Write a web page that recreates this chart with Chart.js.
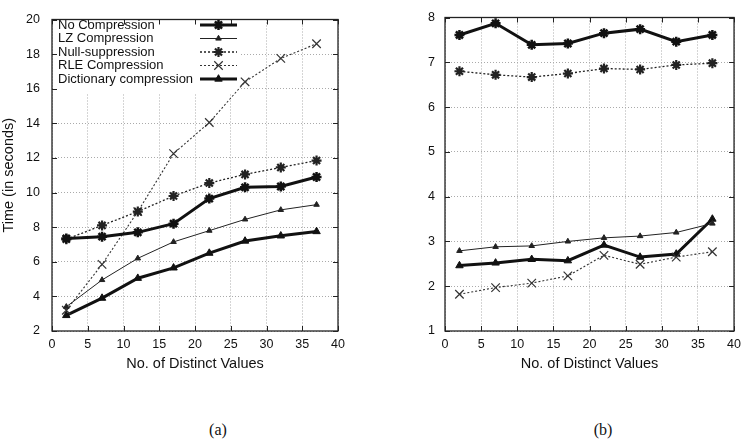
<!DOCTYPE html>
<html><head><meta charset="utf-8">
<script src="https://cdn.jsdelivr.net/npm/chart.js@4/dist/chart.umd.min.js"></script>
<style>
body{margin:0;background:#fff;width:747px;height:446px;position:relative;overflow:hidden;}
canvas{position:absolute;top:0;}
#ca{left:0}
#cb{left:380px}
.cap{position:absolute;top:421px;font:16px/18px "Liberation Serif","Times New Roman",serif;width:40px;text-align:center;color:#111;}
</style></head><body>
<canvas id="ca" width="380" height="380"></canvas>
<canvas id="cb" width="367" height="380"></canvas>
<div class="cap" style="left:198px">(a)</div>
<div class="cap" style="left:583px">(b)</div>
<script>
// ---- data ----
const distinctValues = [2, 7, 12, 17, 22, 27, 32, 37];
const seriesNames = ['No Compression', 'LZ Compression', 'Null-suppression', 'RLE Compression', 'Dictionary compression'];
const xTickLabels = [0, 5, 10, 15, 20, 25, 30, 35, 40];
const yTicksA = [2, 4, 6, 8, 10, 12, 14, 16, 18, 20];
const yTicksB = [1, 2, 3, 4, 5, 6, 7, 8];

// chart (a)
const aNoCompression = [7.35, 7.45, 7.7, 8.2, 9.65, 10.3, 10.35, 10.9];
const aLZ = [3.4, 4.95, 6.2, 7.15, 7.8, 8.45, 9.0, 9.3];
const aNullSuppression = [7.3, 8.1, 8.9, 9.8, 10.55, 11.05, 11.45, 11.85];
const aRLE = [3.2, 5.85, 8.9, 12.25, 14.05, 16.4, 17.75, 18.6];
const aDictionary = [2.9, 3.9, 5.05, 5.65, 6.5, 7.2, 7.5, 7.75];

// chart (b)
const bNoCompression = [7.61, 7.87, 7.39, 7.42, 7.65, 7.74, 7.46, 7.61];
const bLZ = [2.79, 2.88, 2.9, 3.0, 3.08, 3.12, 3.2, 3.4];
const bNullSuppression = [6.8, 6.72, 6.67, 6.75, 6.86, 6.84, 6.94, 6.98];
const bRLE = [1.82, 1.97, 2.07, 2.23, 2.69, 2.49, 2.65, 2.77];
const bDictionary = [2.46, 2.52, 2.6, 2.57, 2.92, 2.65, 2.72, 3.5];

const xAxisTitle = 'No. of Distinct Values';
const yAxisTitle = 'Time (in seconds)';

// ---- styles ----
const INK = '#111';
const styles = [
  {lw: 3,   dash: [],     ps: 'star',     r: 5,   pbw: 2.5, color: INK},
  {lw: 1,   dash: [],     ps: 'triangle', r: 3.2, pbw: 1,   color: '#222'},
  {lw: 1.3, dash: [2, 2], ps: 'star',     r: 5,   pbw: 2.2, color: '#222'},
  {lw: 1.1, dash: [2, 2], ps: 'crossRot', r: 6,   pbw: 1.2, color: '#333'},
  {lw: 3,   dash: [],     ps: 'triangle', r: 4.3, pbw: 1,   color: INK}
];
const FONT = '"Liberation Sans", Arial, Helvetica, sans-serif';

function makeDatasets(seriesValues) {
  return seriesValues.map((vals, i) => {
    const s = styles[i];
    return {
      label: seriesNames[i],
      data: distinctValues.map((x, k) => ({x: x, y: vals[k]})),
      showLine: true,
      borderColor: s.color,
      backgroundColor: s.color,
      borderWidth: s.lw,
      borderDash: s.dash,
      pointStyle: s.ps,
      pointRadius: s.r,
      pointBorderWidth: s.pbw,
      pointBackgroundColor: s.color,
      pointBorderColor: s.color,
      tension: 0,
      clip: false
    };
  });
}

// frame + inner ticks (gnuplot style)
const framePlugin = {
  id: 'frame',
  afterDatasetsDraw(chart) {
    const {ctx, chartArea: a, scales} = chart;
    ctx.save();
    ctx.strokeStyle = '#222';
    ctx.lineWidth = 1.3;
    ctx.setLineDash([]);
    ctx.strokeRect(a.left, a.top, a.right - a.left, a.bottom - a.top);
    ctx.lineWidth = 1;
    const L = 5;
    scales.x.ticks.forEach(t => {
      const px = Math.round(scales.x.getPixelForValue(t.value)) + 0.5;
      ctx.beginPath();
      ctx.moveTo(px, a.bottom); ctx.lineTo(px, a.bottom - L);
      ctx.moveTo(px, a.top); ctx.lineTo(px, a.top + L);
      ctx.stroke();
    });
    scales.y.ticks.forEach(t => {
      const py = Math.round(scales.y.getPixelForValue(t.value)) + 0.5;
      ctx.beginPath();
      ctx.moveTo(a.left, py); ctx.lineTo(a.left + L, py);
      ctx.moveTo(a.right, py); ctx.lineTo(a.right - L, py);
      ctx.stroke();
    });
    ctx.restore();
  }
};

function drawMarker(ctx, s, x, y) {
  ctx.save();
  ctx.setLineDash([]);
  ctx.strokeStyle = s.color;
  ctx.fillStyle = s.color;
  ctx.lineWidth = s.pbw;
  Chart.helpers.drawPoint(ctx, {pointStyle: s.ps, radius: s.r, borderWidth: s.pbw, rotation: 0}, x, y);
  ctx.restore();
}

// legend inside plot, text left, sample right
const insideLegend = {
  id: 'insideLegend',
  beforeDatasetsDraw(chart, args, opts) {
    if (!opts.show) return;
    const {ctx, chartArea: a} = chart;
    ctx.save();
    ctx.fillStyle = '#fff';
    ctx.fillRect(a.left + 1, a.top + 1, 186, 73);
    ctx.restore();
  },
  afterDraw(chart, args, opts) {
    if (!opts.show) return;
    const {ctx} = chart;
    ctx.save();
    ctx.font = '13px ' + FONT;
    ctx.textBaseline = 'middle';
    ctx.textAlign = 'left';
    const rows = [25, 38.5, 52, 65.5, 79];
    seriesNames.forEach((name, i) => {
      const s = styles[i];
      const y = rows[i];
      ctx.fillStyle = '#111';
      ctx.fillText(name, 58, y);
      ctx.strokeStyle = s.color;
      ctx.lineWidth = s.lw;
      ctx.setLineDash(s.dash);
      ctx.beginPath();
      ctx.moveTo(200, y); ctx.lineTo(237, y);
      ctx.stroke();
      drawMarker(ctx, s, 218.5, y);
    });
    ctx.restore();
  }
};

function makeChart(id, seriesValues, yMin, yMax, opt) {
  return new Chart(document.getElementById(id), {
    type: 'scatter',
    data: {datasets: makeDatasets(seriesValues)},
    options: {
      responsive: false,
      animation: false,
      events: [],
      layout: {padding: {top: 14, right: opt.padRight, left: 0, bottom: 0}},
      plugins: {
        legend: {display: false},
        tooltip: {enabled: false},
        insideLegend: {show: opt.legend}
      },
      scales: {
        x: {
          type: 'linear', min: 0, max: 40,
          afterBuildTicks: sc => { sc.ticks = xTickLabels.map(v => ({value: v})); },
          afterFit: sc => { sc.height = 49; },
          ticks: {color: '#111', font: {family: FONT, size: 12.5}, padding: 6, maxRotation: 0, autoSkip: false},
          grid: {color: '#aaa', lineWidth: 1, drawTicks: false},
          border: {display: false, dash: [1, 2]},
          title: {display: true, text: xAxisTitle, color: '#111', font: {family: FONT, size: 14.5}, padding: {top: 0, bottom: 7}}
        },
        y: {
          type: 'linear', min: yMin, max: yMax,
          afterBuildTicks: sc => { sc.ticks = opt.yTicks.map(v => ({value: v})); },
          afterFit: sc => { sc.width = opt.yWidth; },
          ticks: {color: '#111', font: {family: FONT, size: 12.5}, padding: opt.yPad, autoSkip: false},
          grid: {color: '#aaa', lineWidth: 1, drawTicks: false},
          border: {display: false, dash: [1, 2]},
          title: {display: opt.yTitle, text: yAxisTitle, color: '#111', font: {family: FONT, size: 14.5}, padding: {top: 0, bottom: 0}}
        }
      }
    },
    plugins: [framePlugin, insideLegend]
  });
}

makeChart('ca', [aNoCompression, aLZ, aNullSuppression, aRLE, aDictionary], 2, 20,
  {padRight: 42, yWidth: 52, yPad: 12, yTitle: true, legend: true, yTicks: yTicksA});
makeChart('cb', [bNoCompression, bLZ, bNullSuppression, bRLE, bDictionary], 1, 8,
  {padRight: 11, yWidth: 65, yPad: 10, yTitle: false, legend: false, yTicks: yTicksB});
</script>
</body></html>
